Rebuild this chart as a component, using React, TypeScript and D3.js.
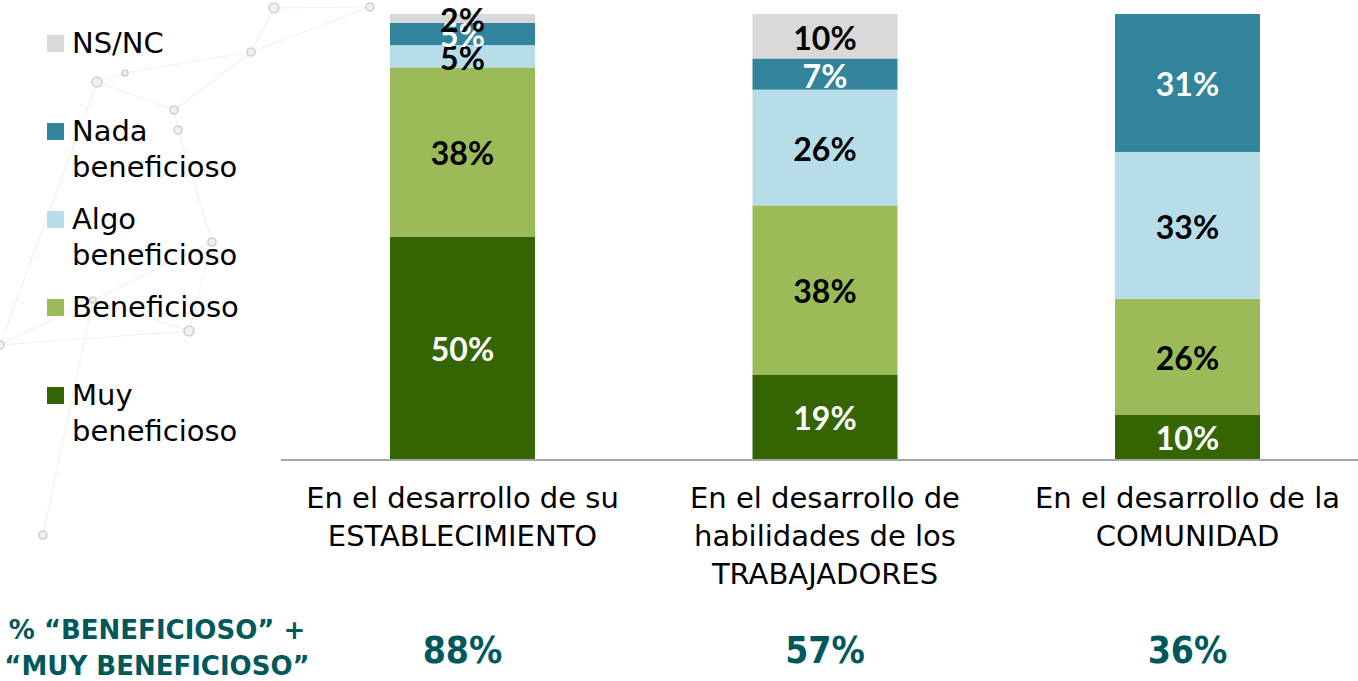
import React from "react";
import * as d3 from "d3";

const categories = [
  ["En el desarrollo de su", "ESTABLECIMIENTO"],
  ["En el desarrollo de", "habilidades de los", "TRABAJADORES"],
  ["En el desarrollo de la", "COMUNIDAD"],
];
const seriesNames = ["Muy beneficioso", "Beneficioso", "Algo beneficioso", "Nada beneficioso", "NS/NC"];
const muy = [50, 19, 10];
const beneficioso = [38, 38, 26];
const algo = [5, 26, 33];
const nada = [5, 7, 31];
const nsnc = [2, 10, 0];
const totals = ["88%", "57%", "36%"];
const legendLines = [["NS/NC"], ["Nada", "beneficioso"], ["Algo", "beneficioso"], ["Beneficioso"], ["Muy", "beneficioso"]];
const legendKeys = ["NS/NC", "Nada beneficioso", "Algo beneficioso", "Beneficioso", "Muy beneficioso"];
const yTicks = [0, 100];

const colors: Record<string, string> = {
  "Muy beneficioso": "#356502",
  "Beneficioso": "#9bbb59",
  "Algo beneficioso": "#b7dde8",
  "Nada beneficioso": "#31849b",
  "NS/NC": "#d9d9d9",
};
const labelColors: Record<string, string> = {
  "Muy beneficioso": "#ffffff",
  "Beneficioso": "#000000",
  "Algo beneficioso": "#000000",
  "Nada beneficioso": "#ffffff",
  "NS/NC": "#000000",
};

const textFont = "'DejaVu Sans', sans-serif";
const condFont = "'DejaVu Sans Condensed', 'DejaVu Sans', sans-serif";
const labelFont = "Lato, 'Open Sans', sans-serif";
const teal = "#00585b";

// background decoration network
const nodes: [number, number, number][] = [
  [274, 8, 5], [370, 7, 4], [251, 52, 4], [125, 73, 3], [97, 82, 5], [174, 110, 4],
  [178, 130, 4], [212, 242, 4], [189, 331, 5], [0, 345, 4], [43, 535, 4], [93, 300, 3],
];
const links: [number, number][] = [
  [0, 1], [0, 2], [1, 2], [2, 3], [3, 4], [4, 5], [2, 5], [5, 6], [6, 7], [7, 8], [8, 9], [4, 9], [8, 11], [11, 9], [11, 10], [7, 11],
];

export default function App() {
  const width = 1358;
  const height = 681;
  const data = categories.map((c, i) => ({
    key: String(i),
    "Muy beneficioso": muy[i],
    "Beneficioso": beneficioso[i],
    "Algo beneficioso": algo[i],
    "Nada beneficioso": nada[i],
    "NS/NC": nsnc[i],
  }));
  const x = d3.scaleBand<string>().domain(data.map((d) => d.key)).range([281.25, 1368.75]).paddingInner(0.6).paddingOuter(0.3);
  const y = d3.scaleLinear().domain([yTicks[0], yTicks[1]]).range([459, 14]);
  const stacked = d3.stack<any>().keys(seriesNames)(data);

  return (
    <svg width={width} height={height} style={{ position: "absolute", left: 0, top: 0, background: "#fff" }}>
      <g>
        {links.map(([a, b], i) => (
          <line key={i} x1={nodes[a][0]} y1={nodes[a][1]} x2={nodes[b][0]} y2={nodes[b][1]} stroke="#f0f0f0" strokeWidth={1.2} />
        ))}
        {nodes.map(([cx, cy, r], i) => (
          <circle key={i} cx={cx} cy={cy} r={r} fill="#f0f0f0" stroke="#d0d0d0" strokeWidth={1.6} />
        ))}
      </g>
      {stacked.map((s) => (
        <g key={s.key}>
          {s.map((d, i) => {
            const v = d[1] - d[0];
            if (v <= 0) return null;
            const x0 = x(data[i].key)!;
            return (
              <rect key={i} x={x0} y={y(d[1])} width={x.bandwidth()} height={y(d[0]) - y(d[1])} fill={colors[s.key]} />
            );
          })}
        </g>
      ))}
      {stacked.map((s) => (
        <g key={s.key + "l"}>
          {s.map((d, i) => {
            const v = d[1] - d[0];
            if (v <= 0) return null;
            const cx = x(data[i].key)! + x.bandwidth() / 2;
            const cy = (y(d[0]) + y(d[1])) / 2;
            return (
              <text key={i} x={cx} y={cy} dy="0.42em" textAnchor="middle" fontFamily={labelFont} fontWeight={700} fontSize={32} fill={labelColors[s.key]}>
                {v}%
              </text>
            );
          })}
        </g>
      ))}
      <line x1={281} x2={1358} y1={y(0) + 1} y2={y(0) + 1} stroke="#a6a6a6" strokeWidth={2} />
      {categories.map((lines, i) => (
        <text key={i} x={x(String(i))! + x.bandwidth() / 2} y={508} textAnchor="middle" fontFamily={textFont} fontSize={29} fill="#000">
          {lines.map((l, j) => (
            <tspan key={j} x={x(String(i))! + x.bandwidth() / 2} dy={j === 0 ? 0 : 38}>{l}</tspan>
          ))}
        </text>
      ))}
      {legendKeys.map((k, i) => {
        const tops = [35, 123, 211, 299, 387];
        return (
          <g key={k}>
            <rect x={47} y={tops[i]} width={17} height={17} fill={colors[k]} />
            <text x={72} y={tops[i] + 18} fontFamily={textFont} fontSize={29} fill="#000">
              {legendLines[i].map((l, j) => (
                <tspan key={j} x={72} dy={j === 0 ? 0 : 36}>{l}</tspan>
              ))}
            </text>
          </g>
        );
      })}
      <text x={157} y={639} textAnchor="middle" fontFamily={textFont} fontWeight={700} fontSize={26} fill={teal}>
        % “BENEFICIOSO” +
      </text>
      <text x={157} y={675} textAnchor="middle" fontFamily={textFont} fontWeight={700} fontSize={26} fill={teal}>
        “MUY BENEFICIOSO”
      </text>
      {totals.map((t, i) => (
        <text key={i} x={x(String(i))! + x.bandwidth() / 2} y={663} textAnchor="middle" fontFamily={condFont} fontWeight={700} fontSize={37} fill={teal}>
          {t}
        </text>
      ))}
    </svg>
  );
}
